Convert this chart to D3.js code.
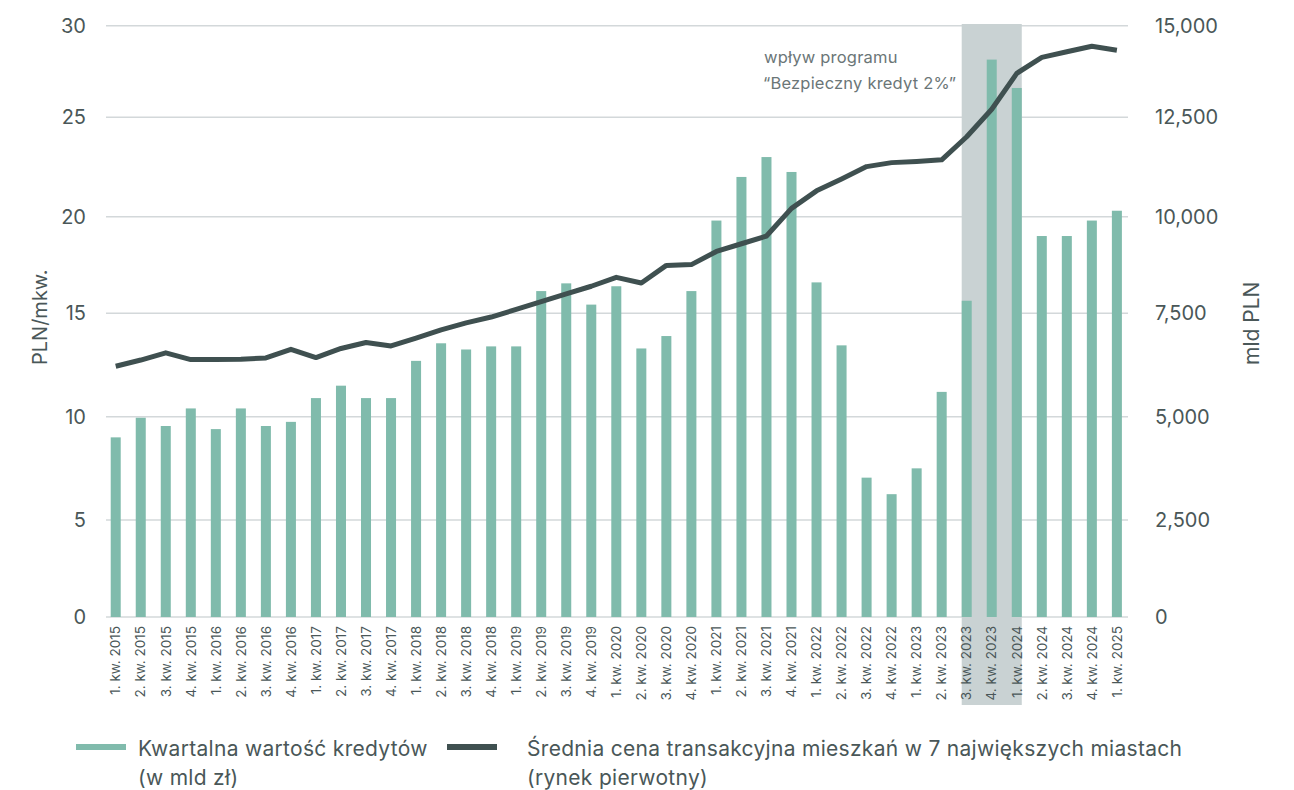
<!DOCTYPE html>
<html>
<head>
<meta charset="utf-8">
<script src="https://cdn.jsdelivr.net/npm/d3@7"></script>
<style>
  body { margin: 0; background: #fff; }
  svg { font-family: Inter, "Noto Sans", sans-serif; }
</style>
</head>
<body>
<div class="canvas"></div>
<script>
var width = 1294, height = 790;

// kategorie: kwartały 2015-2025
var quarters = [];
for (var yr = 2015; yr <= 2025; yr++)
  for (var q = 1; q <= 4; q++)
    if (yr < 2025 || q === 1) quarters.push(q + ". kw. " + yr);

// kwartalna wartość kredytów (mld zł) - lewa oś
var credits = [
  9.0, 9.95, 9.55, 10.4,
  9.4, 10.4, 9.55, 9.75,
  10.9, 11.5, 10.9, 10.9,
  12.7, 13.55, 13.25, 13.4,
  13.4, 16.15, 16.55, 15.45,
  16.4, 13.3, 13.9, 16.15,
  19.8, 22.0, 23.0, 22.25,
  16.6, 13.45, 7.05, 6.25,
  7.5, 11.2, 15.65, 28.15,
  26.6, 19.0, 19.0, 19.8,
  20.3
];

// średnia cena transakcyjna (PLN/mkw.) - prawa oś
var price = [
  6220, 6370, 6545, 6380,
  6380, 6390, 6420, 6630,
  6430, 6650, 6795, 6710,
  6900, 7100, 7270, 7410,
  7600, 7800, 8000, 8200,
  8430, 8285, 8740, 8760,
  9100, 9300, 9500, 10210,
  10650, 10950, 11260, 11360,
  11390, 11430, 12010, 12720,
  13700, 14135, 14290, 14440,
  14330
];

var leftTicks = [0, 5, 10, 15, 20, 25, 30];
var rightTicks = [0, 2500, 5000, 7500, 10000, 12500, 15000];
var shaded = ["3. kw. 2023", "1. kw. 2024"];

var textCol = "#4a5758", barCol = "#80bbac", lineCol = "#3f5050",
    gridCol = "#d3d8da", shadeCol = "#c9d2d3";

var svg = d3.select(".canvas").append("svg")
    .attr("width", width)
    .attr("height", height);

var x = d3.scaleBand()
    .domain(quarters)
    .range([103.2, 1129.4])
    .paddingInner(0.6)
    .paddingOuter(0.3);

// siatka w oryginale nie jest idealnie równa - skala odcinkowo liniowa
var gridY = [617, 520, 416.7, 313.3, 216.7, 117.3, 25.7];
var yL = d3.scaleLinear().domain(leftTicks).range(gridY);
var yR = d3.scaleLinear().domain(rightTicks).range(gridY);

svg.append("g").selectAll("line").data(leftTicks)
  .enter().append("line")
    .attr("x1", 106).attr("x2", 1128)
    .attr("y1", function(d) { return yL(d); })
    .attr("y2", function(d) { return yL(d); })
    .style("stroke", gridCol)
    .style("stroke-width", "1.6px");

// obszar programu "Bezpieczny kredyt 2%"
var s0 = x(shaded[0]), s1 = x(shaded[1]) + x.bandwidth();
svg.append("rect")
    .attr("x", s0).attr("y", 24)
    .attr("width", s1 - s0).attr("height", 705 - 24)
    .style("fill", shadeCol);

svg.append("text")
    .attr("x", 764).attr("y", 63)
    .style("font-size", "16.5px").style("letter-spacing", "0.2px").style("fill", "#6b7677")
    .text("wpływ programu");
svg.append("text")
    .attr("x", 763).attr("y", 89)
    .style("font-size", "16.5px").style("letter-spacing", "0.2px").style("fill", "#6b7677")
    .text("“Bezpieczny kredyt 2%”");

// słupki
svg.append("g").selectAll("rect").data(credits)
  .enter().append("rect")
    .attr("x", function(d, i) { return x(quarters[i]); })
    .attr("y", function(d) { return yL(d); })
    .attr("width", x.bandwidth())
    .attr("height", function(d) { return yL(0) - yL(d); })
    .style("fill", barCol);

// linia
var line = d3.line()
    .x(function(d, i) { return x(quarters[i]) + x.bandwidth() / 2; })
    .y(function(d) { return yR(d); });

svg.append("path")
    .datum(price)
    .attr("d", line)
    .style("fill", "none")
    .style("stroke", lineCol)
    .style("stroke-width", "5px")
    .style("stroke-linejoin", "round");

// osie
var axL = svg.append("g")
    .attr("transform", "translate(86,0)")
    .call(d3.axisLeft(yL).tickValues(leftTicks).tickSize(0).tickPadding(0));
var axR = svg.append("g")
    .attr("transform", "translate(1155,0)")
    .call(d3.axisRight(yR).tickValues(rightTicks).tickSize(0).tickPadding(0)
      .tickFormat(d3.format(",")));
[axL, axR].forEach(function(a) {
  a.select(".domain").remove();
  a.selectAll("text")
    .style("font-family", "Inter, sans-serif")
    .style("font-size", "20px")
    .style("fill", textCol);
});

var axX = svg.append("g")
    .attr("transform", "translate(0,617)")
    .call(d3.axisBottom(x).tickSize(0));
axX.select(".domain").remove();
axX.selectAll("text")
    .attr("transform", "rotate(-90)")
    .attr("x", -9).attr("y", 0).attr("dy", "0.35em")
    .style("text-anchor", "end")
    .style("font-family", "Inter, sans-serif")
    .style("font-size", "13.5px")
    .style("fill", textCol);

// tytuły osi
svg.append("text")
    .attr("transform", "translate(47,365) rotate(-90)")
    .style("font-size", "20px").style("fill", textCol)
    .text("PLN/mkw.");
svg.append("text")
    .attr("transform", "translate(1259,365) rotate(-90)")
    .style("font-size", "21px").style("fill", textCol)
    .text("mld PLN");

// legenda
var legend = [
  {col: barCol, x: 76, tx: 138, lines: ["Kwartalna wartość kredytów", "(w mld zł)"]},
  {col: lineCol, x: 447, tx: 527, lines: ["Średnia cena transakcyjna mieszkań w 7 największych miastach", "(rynek pierwotny)"]}
];
legend.forEach(function(l) {
  svg.append("rect")
      .attr("x", l.x).attr("y", 744)
      .attr("width", 50).attr("height", 6)
      .style("fill", l.col);
  l.lines.forEach(function(t, i) {
    svg.append("text")
        .attr("x", l.tx).attr("y", 756 + i * 29)
        .style("font-size", "21px").style("letter-spacing", "0.3px").style("fill", textCol)
        .text(t);
  });
});
</script>
</body>
</html>
